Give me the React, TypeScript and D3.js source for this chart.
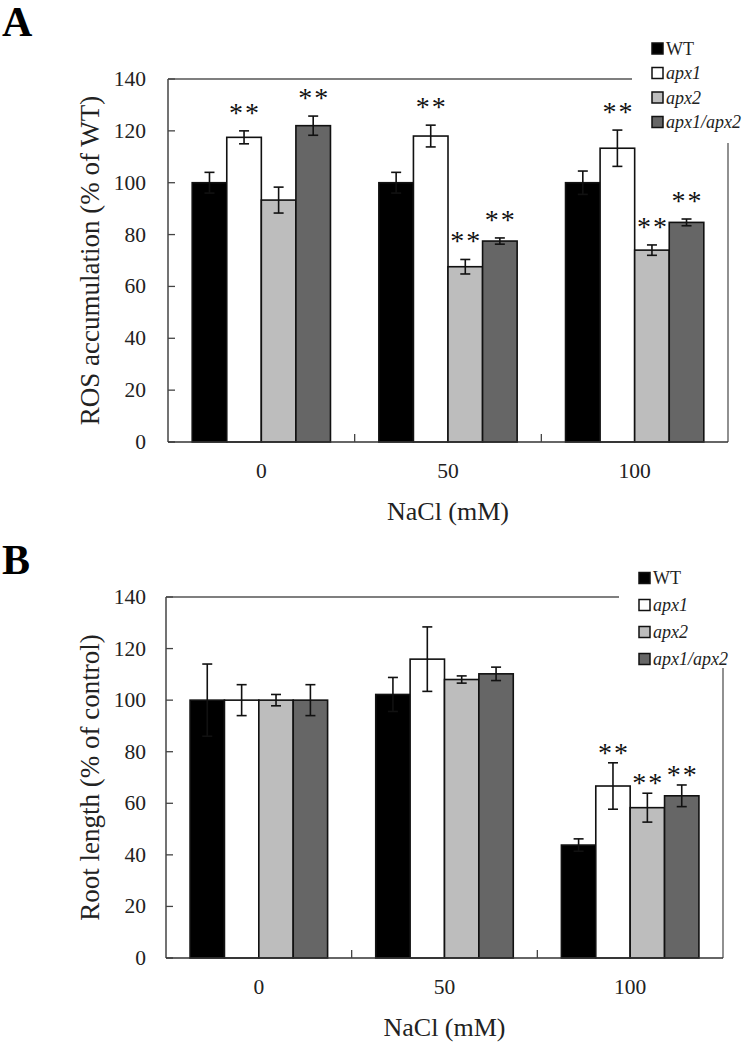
import * as d3 from "d3";

// NaCl concentrations (mM) and genotypes
const categories = ["0", "50", "100"];
const genotypes = ["WT", "apx1", "apx2", "apx1/apx2"];
const fills = ["#000000", "#ffffff", "#bdbdbd", "#666666"];
const yTicks = [0, 20, 40, 60, 80, 100, 120, 140];

// Panel A: ROS accumulation (% of WT)
const rosWT = [100, 100, 100];
const rosApx1 = [117.5, 118, 113.3];
const rosApx2 = [93.3, 67.6, 74];
const rosDouble = [122, 77.5, 84.7];
const rosErrWT = [4, 4, 4.5];
const rosErrApx1 = [2.5, 4.2, 7];
const rosErrApx2 = [5, 2.8, 2];
const rosErrDouble = [3.7, 1.2, 1.3];
const rosSigWT = [false, false, false];
const rosSigApx1 = [true, true, true];
const rosSigApx2 = [false, true, true];
const rosSigDouble = [true, true, true];

// Panel B: root length (% of control)
const rootWT = [100, 102.2, 43.8];
const rootApx1 = [100, 115.9, 66.7];
const rootApx2 = [100, 108, 58.3];
const rootDouble = [100, 110.2, 62.9];
const rootErrWT = [14, 6.6, 2.4];
const rootErrApx1 = [6, 12.5, 9];
const rootErrApx2 = [2.2, 1.4, 5.6];
const rootErrDouble = [6, 2.6, 4.2];
const rootSigWT = [false, false, false];
const rootSigApx1 = [false, false, true];
const rootSigApx2 = [false, false, true];
const rootSigDouble = [false, false, true];

const serif = "'Liberation Serif', 'Times New Roman', serif";

type PanelProps = {
  label: string;
  labelY: number;
  top: number;
  bottom: number;
  left: number;
  right: number;
  yTitle: string;
  means: number[][];
  errs: number[][];
  sig: boolean[][];
  topLineEnd: number;
  rightLineStart: number;
  legendX: number;
  legendY: number;
  legendDy: number;
  starGap: number;
};

function Panel(p: PanelProps) {
  const y = d3.scaleLinear().domain([0, 140]).range([p.bottom, p.top]);
  const x0 = d3.scaleBand<string>().domain(categories).range([p.left, p.right]);
  const x1 = d3
    .scaleBand<string>()
    .domain(genotypes)
    .range([0, x0.bandwidth()])
    .paddingOuter(0.7);
  const bw = x1.bandwidth();
  const cx = (p.left + p.right) / 2;
  const cy = (p.top + p.bottom) / 2;

  return (
    <g fontFamily={serif}>
      <text x={2} y={p.labelY} fontSize={42} fontWeight="bold">
        {p.label}
      </text>

      {/* frame */}
      <line x1={p.left} x2={p.topLineEnd} y1={p.top} y2={p.top} stroke="#555" strokeWidth={1.3} />
      <line x1={p.right} x2={p.right} y1={p.rightLineStart} y2={p.bottom} stroke="#555" strokeWidth={1.3} />
      <line x1={p.left} x2={p.left} y1={p.top} y2={p.bottom} stroke="#444" strokeWidth={1.5} />

      {/* y ticks */}
      {yTicks.map((t) => (
        <g key={t}>
          <line x1={p.left} x2={p.left + 7} y1={y(t)} y2={y(t)} stroke="#444" strokeWidth={1.3} />
          <text x={146} y={y(t) + 7} fontSize={21.5} textAnchor="end" fill="#222">
            {t}
          </text>
        </g>
      ))}
      <text
        transform={`translate(${99},${cy}) rotate(-90)`}
        textAnchor="middle"
        fontSize={27}
        fill="#222"
      >
        {p.yTitle}
      </text>

      {/* bars */}
      {categories.map((c, ci) => (
        <g key={c}>
          {genotypes.map((g, gi) => {
            const bx = (x0(c) as number) + (x1(g) as number);
            const v = p.means[gi][ci];
            const e = p.errs[gi][ci];
            const mid = bx + bw / 2;
            return (
              <g key={g}>
                <rect
                  x={bx}
                  y={y(v)}
                  width={bw}
                  height={p.bottom - y(v)}
                  fill={fills[gi]}
                  stroke="#111"
                  strokeWidth={1.6}
                />
                <line x1={mid} x2={mid} y1={y(v + e)} y2={y(v - e)} stroke="#111" strokeWidth={1.6} />
                <line x1={mid - 5} x2={mid + 5} y1={y(v + e)} y2={y(v + e)} stroke="#111" strokeWidth={1.6} />
                <line x1={mid - 5} x2={mid + 5} y1={y(v - e)} y2={y(v - e)} stroke="#111" strokeWidth={1.6} />
                {p.sig[gi][ci] && (
                  <text
                    x={mid + 1}
                    y={y(v + e) - p.starGap + 9}
                    fontSize={28}
                    letterSpacing={2}
                    textAnchor="middle"
                    fill="#111"
                  >
                    **
                  </text>
                )}
              </g>
            );
          })}
        </g>
      ))}

      {/* x axis */}
      <line x1={p.left} x2={p.right} y1={p.bottom} y2={p.bottom} stroke="#333" strokeWidth={1.5} />
      {categories.slice(1).map((c) => (
        <line
          key={c}
          x1={x0(c) as number}
          x2={x0(c) as number}
          y1={p.bottom}
          y2={p.bottom - 8}
          stroke="#444"
          strokeWidth={1.3}
        />
      ))}
      {categories.map((c) => (
        <text
          key={c}
          x={(x0(c) as number) + x0.bandwidth() / 2}
          y={p.bottom + 36}
          fontSize={21.5}
          textAnchor="middle"
          fill="#222"
        >
          {c}
        </text>
      ))}
      <text x={cx} y={p.bottom + 78} fontSize={26} textAnchor="middle" fill="#222">
        NaCl (mM)
      </text>

      {/* legend */}
      {genotypes.map((g, gi) => {
        const ly = p.legendY + gi * p.legendDy;
        return (
          <g key={g}>
            <rect x={p.legendX} y={ly - 5.5} width={11} height={11} fill={fills[gi]} stroke="#111" strokeWidth={1.5} />
            <text
              x={p.legendX + 14}
              y={ly + 6}
              fontSize={18}
              fontStyle={gi === 0 ? "normal" : "italic"}
              fill="#222"
            >
              {g}
            </text>
          </g>
        );
      })}
    </g>
  );
}

export default function App() {
  return (
    <svg
      width={742}
      height={1046}
      style={{ position: "absolute", left: 0, top: 0, background: "#fff" }}
    >
      <Panel
        label="A"
        labelY={36}
        top={79}
        bottom={442}
        left={168}
        right={728}
        yTitle="ROS accumulation (% of WT)"
        means={[rosWT, rosApx1, rosApx2, rosDouble]}
        errs={[rosErrWT, rosErrApx1, rosErrApx2, rosErrDouble]}
        sig={[rosSigWT, rosSigApx1, rosSigApx2, rosSigDouble]}
        topLineEnd={632}
        rightLineStart={143}
        legendX={652}
        legendY={48.5}
        legendDy={24.5}
        starGap={18}
      />
      <Panel
        label="B"
        labelY={574}
        top={597}
        bottom={958}
        left={166}
        right={723}
        yTitle="Root length (% of control)"
        means={[rootWT, rootApx1, rootApx2, rootDouble]}
        errs={[rootErrWT, rootErrApx1, rootErrApx2, rootErrDouble]}
        sig={[rootSigWT, rootSigApx1, rootSigApx2, rootSigDouble]}
        topLineEnd={619}
        rightLineStart={668}
        legendX={639}
        legendY={578}
        legendDy={27}
        starGap={10}
      />
    </svg>
  );
}
